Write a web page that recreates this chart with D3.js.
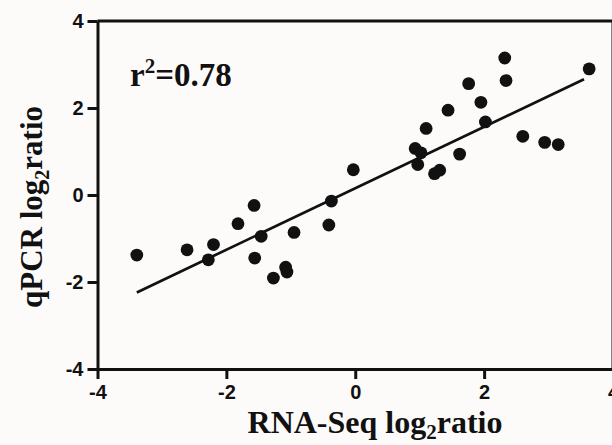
<!DOCTYPE html>
<html>
<head>
<meta charset="utf-8">
<script src="https://cdn.jsdelivr.net/npm/d3@7"></script>
<style>
  body { margin: 0; background: #fdfbfa; }
  svg { display: block; background: #fdfbfa; }
  .tick text { font-family: "Liberation Sans", Arial, sans-serif; font-weight: bold; }
  .title { font-family: "Liberation Serif", "Times New Roman", serif; font-weight: bold; }
</style>
</head>
<body>
<svg></svg>
<script>
// RNA-Seq vs qPCR log2 ratios
var rnaSeq = [-3.39, -2.61, -2.28, -2.20, -1.82, -1.57, -1.56, -1.46, -1.27, -1.08,
              -1.06, -0.95, -0.37, -0.41, -0.03, 0.93, 1.02, 0.97, 1.10, 1.23,
              1.31, 1.44, 1.62, 1.76, 1.95, 2.02, 2.32, 2.34, 2.60, 2.94,
              3.15, 3.63];
var qpcr = [-1.38, -1.26, -1.49, -1.14, -0.66, -0.24, -1.45, -0.95, -1.91, -1.66,
            -1.77, -0.86, -0.14, -0.69, 0.58, 1.07, 0.97, 0.70, 1.53, 0.49,
            0.57, 1.95, 0.94, 2.56, 2.13, 1.68, 3.15, 2.63, 1.35, 1.21,
            1.16, 2.90];
// fitted line ends
var fitX = [-3.39, 3.55];
var fitY = [-2.24, 2.66];
var xTicks = [-4, -2, 0, 2, 4];
var yTicks = [-4, -2, 0, 2, 4];

var width = 612;
var height = 445;

var svg = d3.select("svg")
    .attr("width", width)
    .attr("height", height);

var xScale = d3.scaleLinear()
    .domain([-4, 4])
    .range([97.5, 613]);

var yScale = d3.scaleLinear()
    .domain([-4, 4])
    .range([369, 21]);

// plain hyphen for negatives, like the original
var fmt = d => String(d);

var xAxis = d3.axisBottom(xScale)
    .tickValues(xTicks)
    .tickFormat(fmt)
    .tickSize(10)
    .tickSizeOuter(0)
    .tickPadding(6);
var yAxis = d3.axisLeft(yScale)
    .tickValues(yTicks)
    .tickFormat(fmt)
    .tickSize(10)
    .tickSizeOuter(0)
    .tickPadding(4);

// frame: top and right sides
svg.append("path")
    .attr("d", "M" + xScale(-4) + "," + yScale(4) + "H" + xScale(4) + "V" + yScale(-4))
    .attr("fill", "none")
    .attr("stroke", "#111")
    .attr("stroke-width", 3);

var gx = svg.append("g")
    .attr("transform", "translate(0," + yScale(-4) + ")")
    .call(xAxis);
var gy = svg.append("g")
    .attr("transform", "translate(" + xScale(-4) + ",0)")
    .call(yAxis);

[gx, gy].forEach(function (g) {
    g.select(".domain").attr("stroke", "#111").attr("stroke-width", 3);
    g.selectAll(".tick line").attr("stroke", "#111").attr("stroke-width", 3);
    g.selectAll(".tick text")
        .attr("fill", "#111")
        .style("font-size", "20px");
});

svg.append("line")
    .attr("x1", xScale(fitX[0]))
    .attr("y1", yScale(fitY[0]))
    .attr("x2", xScale(fitX[1]))
    .attr("y2", yScale(fitY[1]))
    .attr("stroke", "#111")
    .attr("stroke-width", 2.7);

svg.selectAll("circle")
    .data(rnaSeq)
    .enter()
    .append("circle")
    .attr("cx", d => xScale(d))
    .attr("cy", (d, i) => yScale(qpcr[i]))
    .attr("r", 6.4)
    .attr("fill", "#111");

// r squared label
var r2 = svg.append("text")
    .attr("class", "title")
    .attr("x", 130)
    .attr("y", 86)
    .style("font-size", "33px")
    .attr("fill", "#111");
r2.append("tspan").text("r");
r2.append("tspan").attr("dy", -13).style("font-size", "21px").text("2");
r2.append("tspan").attr("dy", 13).text("=0.78");

// x title
var xt = svg.append("text")
    .attr("class", "title")
    .attr("x", 375)
    .attr("y", 433)
    .attr("text-anchor", "middle")
    .style("font-size", "32px")
    .attr("fill", "#111");
xt.append("tspan").text("RNA-Seq log");
xt.append("tspan").attr("dy", 6).style("font-size", "21px").text("2");
xt.append("tspan").attr("dy", -6).text("ratio");

// y title
var yt = svg.append("text")
    .attr("class", "title")
    .attr("transform", "rotate(-90)")
    .attr("x", -207)
    .attr("y", 42)
    .attr("text-anchor", "middle")
    .style("font-size", "31px")
    .attr("fill", "#111");
yt.append("tspan").text("qPCR log");
yt.append("tspan").attr("dy", 7).style("font-size", "20px").text("2");
yt.append("tspan").attr("dy", -7).text("ratio");
</script>
</body>
</html>
